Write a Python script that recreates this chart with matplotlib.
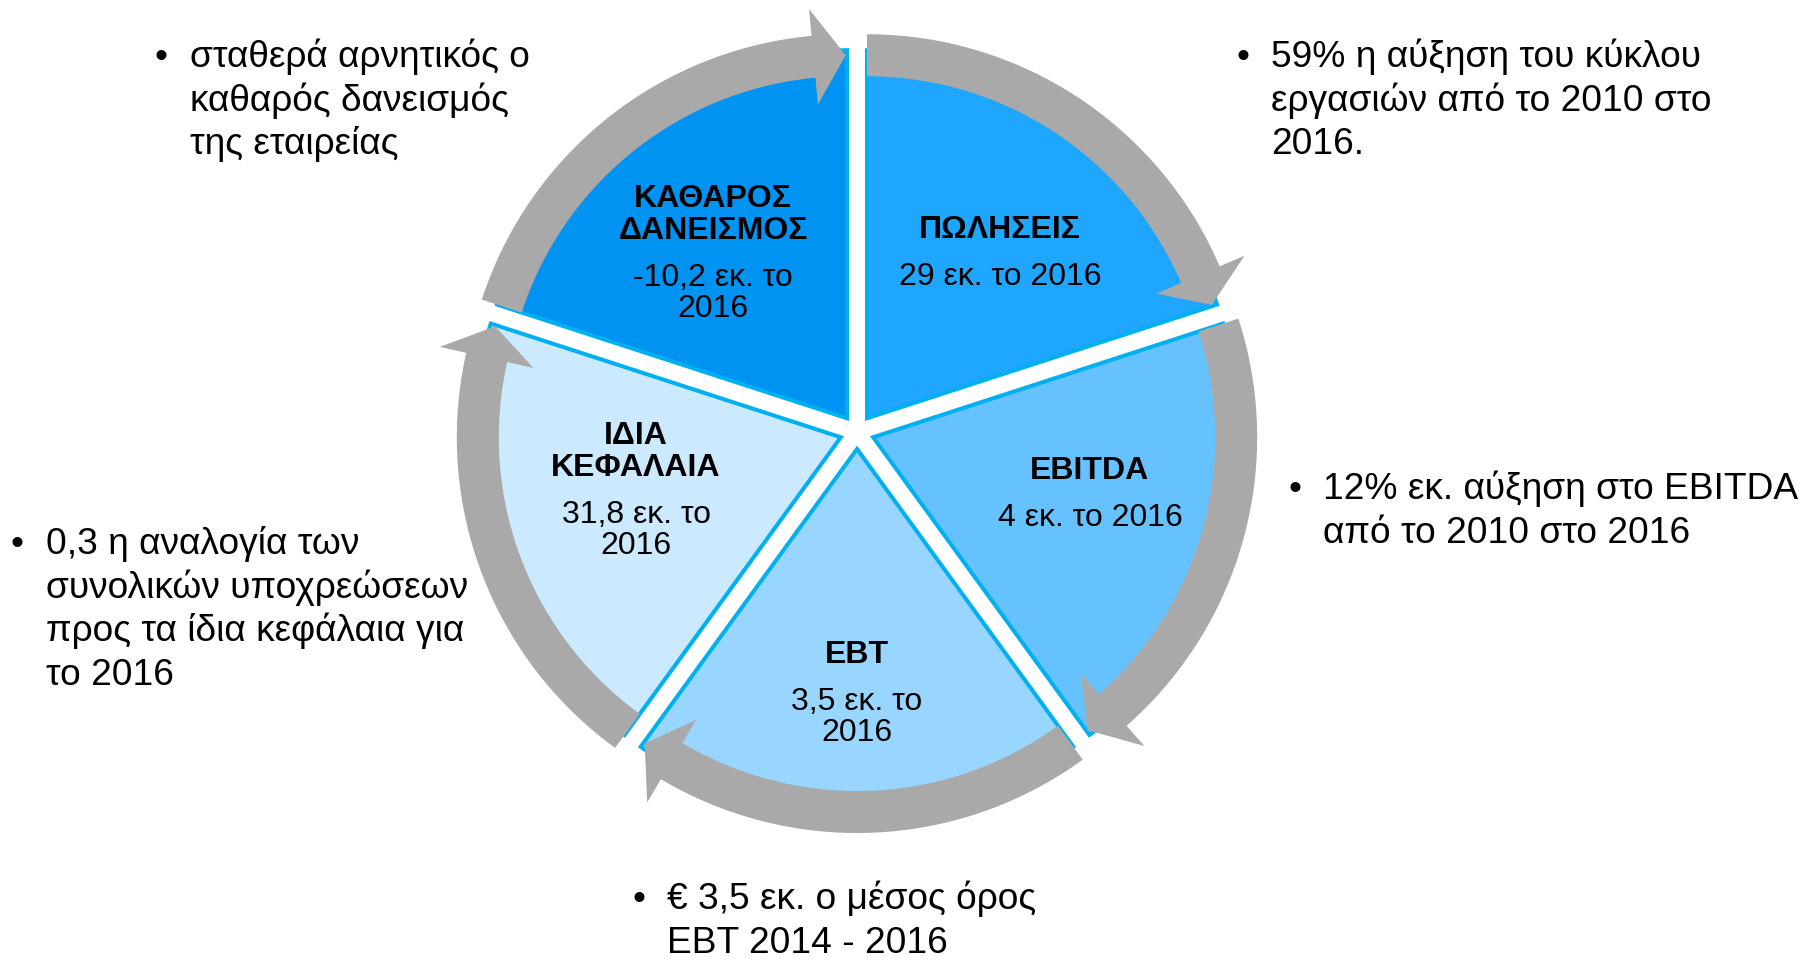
import numpy as np
import matplotlib.pyplot as plt
from matplotlib.patches import Wedge, Polygon

plt.rcParams['font.family'] = ['Liberation Sans', 'DejaVu Sans']

# segments of the cycle, clockwise from 12 o'clock
titles = ['ΠΩΛΗΣΕΙΣ', 'EBITDA', 'EBT', 'ΙΔΙΑ\nΚΕΦΑΛΑΙΑ', 'ΚΑΘΑΡΟΣ\nΔΑΝΕΙΣΜΟΣ']
values = ['29 εκ. το 2016', '4 εκ. το 2016', '3,5 εκ. το\n2016',
          '31,8 εκ. το\n2016', '-10,2 εκ. το\n2016']
fills = ['#1fa6fe', '#66c2ff', '#99d6ff', '#cceaff', '#0093f2']

# bullet notes around the cycle
notes = [
    'σταθερά αρνητικός ο\nκαθαρός δανεισμός\nτης εταιρείας',
    '59% η αύξηση του κύκλου\nεργασιών από το 2010 στο\n2016.',
    '12% εκ. αύξηση στο EBITDA\nαπό το 2010 στο 2016',
    '0,3 η αναλογία των\nσυνολικών υποχρεώσεων\nπρος τα ίδια κεφάλαια για\nτο 2016',
    '€ 3,5 εκ. ο μέσος όρος\nEBT 2014 - 2016',
]

# layout (pixels, measured from the top-left corner)
W, H = 1804, 963
cx, cy = 857, H - 432
explode = 17
r_seg = 368
r_mid = 363
band = 21
head = 48
head_len = 5.3
label_xy = [(1000, 250), (1090, 491), (857, 691), (636, 488), (713, 251)]
note_xy = [(190, 67), (1271, 67), (1323, 499), (46, 554), (667, 909)]
note_gap = 43.7
gray = '#a9a9a9'
edge = '#00b0f0'

fig = plt.figure(figsize=(W / 100, H / 100), dpi=100)
ax = fig.add_axes([0, 0, 1, 1])
ax.set_xlim(0, W)
ax.set_ylim(0, H)
ax.axis('off')

n = len(titles)
step = 360 / n
for i in range(n):
    a_start = 90 - i * step
    a_end = a_start - step
    mid = np.radians(a_start - step / 2)
    ox = cx + explode * np.cos(mid)
    oy = cy + explode * np.sin(mid)

    ax.add_patch(Wedge((ox, oy), r_seg, a_end, a_start, facecolor=fills[i],
                       edgecolor=edge, lw=2.9, zorder=1))

    # curved arrow running clockwise over the segment
    base = a_end + head_len
    t = np.radians(np.linspace(a_start, base, 80))
    outer = np.c_[ox + (r_mid + band) * np.cos(t), oy + (r_mid + band) * np.sin(t)]
    inner = np.c_[ox + (r_mid - band) * np.cos(t[::-1]), oy + (r_mid - band) * np.sin(t[::-1])]
    b = np.radians(base)
    tip = np.radians(a_end + 0.2)
    head_pts = np.array([
        [ox + (r_mid + head) * np.cos(b), oy + (r_mid + head) * np.sin(b)],
        [ox + r_mid * np.cos(tip), oy + r_mid * np.sin(tip)],
        [ox + (r_mid - head) * np.cos(b), oy + (r_mid - head) * np.sin(b)],
    ])
    ax.add_patch(Polygon(np.vstack([outer, head_pts, inner]), closed=True,
                         facecolor=gray, edgecolor='none', zorder=2))

    # segment labels
    lx, ly = label_xy[i][0], H - label_xy[i][1]
    t_lines = titles[i].split('\n')
    v_lines = values[i].split('\n')
    offs = [k * 32 for k in range(len(t_lines))]
    offs += [offs[-1] + 47 + k * 31 for k in range(len(v_lines))]
    y0 = ly + offs[-1] / 2 - 11
    for k, line in enumerate(t_lines + v_lines):
        ax.text(lx, y0 - offs[k], line, ha='center', va='baseline', fontsize=23,
                fontweight='bold' if k < len(t_lines) else 'normal', zorder=3)

# bullet notes
for note, (x, y) in zip(notes, note_xy):
    ax.text(x - 35, H - y, '•', ha='left', va='baseline', fontsize=26.7)
    for k, line in enumerate(note.split('\n')):
        ax.text(x, H - y - k * note_gap, line, ha='left', va='baseline', fontsize=26.7)

fig.savefig('out.png', dpi=100, facecolor='white')
